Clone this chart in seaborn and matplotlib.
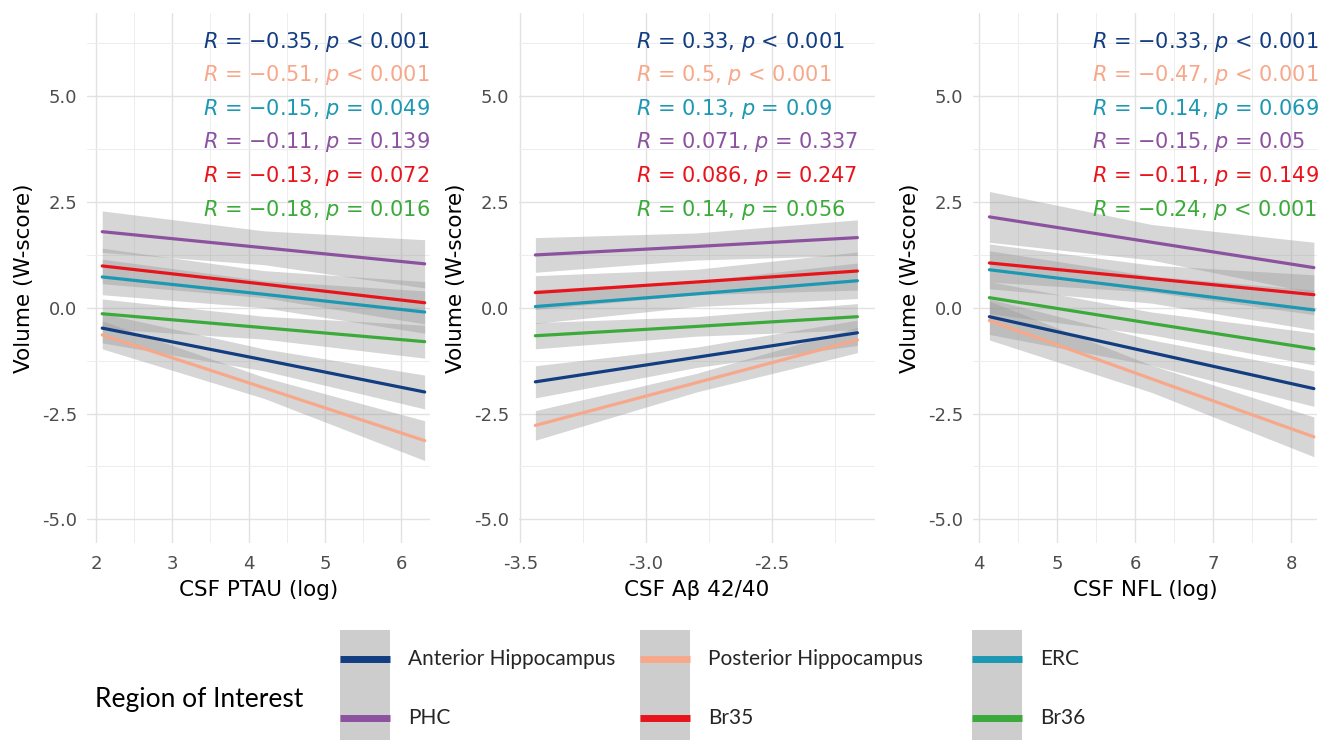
import pandas as pd
import seaborn as sns
import matplotlib.pyplot as plt
from matplotlib.lines import Line2D
from matplotlib.patches import Patch
from matplotlib.legend_handler import HandlerLine2D

sns.set_theme(style='white')
plt.rcParams['font.family'] = ['DejaVu Sans']
plt.rcParams['axes.unicode_minus'] = False

W, H = 1319, 740

regions = ['Anterior Hippocampus', 'Posterior Hippocampus', 'ERC', 'PHC', 'Br35', 'Br36']
colors = ['#123D80', '#F8A88A', '#1C98B3', '#8C52A0', '#E8141C', '#3BAA3A']
palette = dict(zip(regions, colors))

# fitted line at start / middle / end of the x range, one row per region
ptau_x = [2.08, 4.20, 6.31]
ptau_fit = [[-0.48, -1.23, -1.99], [-0.64, -1.89, -3.14], [0.73, 0.32, -0.10],
            [1.80, 1.42, 1.04], [0.99, 0.56, 0.12], [-0.14, -0.47, -0.80]]
ptau_ci = [[0.35, 0.26, 0.40], [0.33, 0.25, 0.47], [0.42, 0.32, 0.50],
           [0.49, 0.40, 0.57], [0.42, 0.32, 0.50], [0.35, 0.27, 0.39]]
ptau_r = [-0.35, -0.51, -0.15, -0.11, -0.13, -0.18]
ptau_p = ['< 0.001', '< 0.001', '= 0.049', '= 0.139', '= 0.072', '= 0.016']

abeta_x = [-3.44, -2.80, -2.16]
abeta_fit = [[-1.75, -1.17, -0.59], [-2.78, -1.77, -0.76], [0.03, 0.33, 0.64],
             [1.25, 1.45, 1.66], [0.36, 0.61, 0.87], [-0.66, -0.44, -0.21]]
abeta_ci = [[0.38, 0.24, 0.30], [0.35, 0.22, 0.30], [0.40, 0.30, 0.42],
            [0.41, 0.32, 0.42], [0.40, 0.30, 0.45], [0.31, 0.23, 0.31]]
abeta_r = [0.33, 0.5, 0.13, 0.071, 0.086, 0.14]
abeta_p = ['< 0.001', '< 0.001', '= 0.09', '= 0.337', '= 0.247', '= 0.056']

nfl_x = [4.13, 6.21, 8.29]
nfl_fit = [[-0.21, -1.06, -1.91], [-0.30, -1.68, -3.05], [0.90, 0.43, -0.05],
           [2.15, 1.55, 0.95], [1.06, 0.69, 0.31], [0.24, -0.37, -0.97]]
nfl_ci = [[0.42, 0.30, 0.42], [0.46, 0.32, 0.47], [0.45, 0.32, 0.47],
          [0.60, 0.42, 0.60], [0.45, 0.32, 0.47], [0.38, 0.27, 0.38]]
nfl_r = [-0.33, -0.47, -0.14, -0.15, -0.11, -0.24]
nfl_p = ['< 0.001', '< 0.001', '= 0.069', '= 0.05', '= 0.149', '< 0.001']

y_ticks = [-5.0, -2.5, 0.0, 2.5, 5.0]

panels = [
    dict(x=ptau_x, fit=ptau_fit, ci=ptau_ci, r=ptau_r, p=ptau_p, xlabel='CSF PTAU (log)',
         ticks=[2, 3, 4, 5, 6], minor=[2.5, 3.5, 4.5, 5.5], fmt='{:.0f}',
         xlim=(1.88, 6.38), box=(87, 430), text_x=3.40),
    dict(x=abeta_x, fit=abeta_fit, ci=abeta_ci, r=abeta_r, p=abeta_p, xlabel='CSF Aβ 42/40',
         ticks=[-3.5, -3.0, -2.5], minor=[-3.25, -2.75, -2.25], fmt='{:.1f}',
         xlim=(-3.505, -2.09), box=(519, 875), text_x=-3.04),
    dict(x=nfl_x, fit=nfl_fit, ci=nfl_ci, r=nfl_r, p=nfl_p, xlabel='CSF NFL (log)',
         ticks=[4, 5, 6, 7, 8], minor=[4.5, 5.5, 6.5, 7.5], fmt='{:.0f}',
         xlim=(3.92, 8.33), box=(973, 1317), text_x=5.44),
]

label_rows = [6.15, 5.36, 4.56, 3.77, 2.97, 2.18]

fig = plt.figure(figsize=(W / 100, H / 100), dpi=100)
top_px, bot_px = 13, 543

for pan in panels:
    x0, x1 = pan['box']
    ax = fig.add_axes([x0 / W, 1 - bot_px / H, (x1 - x0) / W, (bot_px - top_px) / H])

    # confidence bands first
    for i, reg in enumerate(regions):
        lo = [f - c for f, c in zip(pan['fit'][i], pan['ci'][i])]
        hi = [f + c for f, c in zip(pan['fit'][i], pan['ci'][i])]
        ax.fill_between(pan['x'], lo, hi, color='#999999', alpha=0.4, lw=0, zorder=2)

    rows = []
    for i, reg in enumerate(regions):
        for xv, yv in zip(pan['x'], pan['fit'][i]):
            rows.append({'x': xv, 'volume': yv, 'region': reg})
    df = pd.DataFrame(rows)
    sns.lineplot(data=df, x='x', y='volume', hue='region', hue_order=regions,
                 palette=palette, lw=2.3, legend=False, ax=ax, zorder=3)

    for i, reg in enumerate(regions):
        r = pan['r'][i]
        r_txt = ('\u2212' if r < 0 else '') + str(abs(r))
        ax.text(pan['text_x'], label_rows[i], f'$R$ = {r_txt}, $p$ {pan["p"][i]}',
                color=colors[i], fontsize=15, ha='left', va='baseline', zorder=4)

    ax.set_xlim(pan['xlim'])
    ax.set_ylim(-5.56, 6.97)
    ax.set_xticks(pan['ticks'], labels=[pan['fmt'].format(t) for t in pan['ticks']])
    ax.set_xticks(pan['minor'], minor=True)
    ax.set_yticks(y_ticks, labels=[f'{v:.1f}' for v in y_ticks])
    ax.set_yticks([-3.75, -1.25, 1.25, 3.75, 6.25], minor=True)
    ax.grid(which='major', color='#E2E2E2', lw=1.0)
    ax.grid(which='minor', color='#EDEDED', lw=0.7)
    ax.set_axisbelow(True)
    for s in ax.spines.values():
        s.set_visible(False)
    ax.tick_params(which='both', length=0, labelsize=13, labelcolor='#4D4D4D')
    ax.tick_params(axis='x', pad=8.5)
    ax.tick_params(axis='y', pad=7)
    ax.set_xlabel(pan['xlabel'], fontsize=15.5, color='black', labelpad=5)
    ax.set_ylabel('Volume (W-score)', fontsize=15.5, color='black', labelpad=6)


class CenteredLine(HandlerLine2D):
    # put the key line in the middle of the grey key box
    def create_artists(self, legend, orig_handle, xdescent, ydescent,
                       width, height, fontsize, trans):
        arts = super().create_artists(legend, orig_handle, xdescent, ydescent,
                                      width, height, fontsize, trans)
        for a in arts:
            a.set_ydata([height / 2 - ydescent] * len(a.get_xdata()))
        return arts


# legend: three columns of two keys, grey key background like ggplot smooth
fs = 15
fs_px = fs * 100 / 72
row_px = 59
hh = (row_px / fs_px - 0.245) / 0.65
key_cols = [[0, 3], [1, 4], [2, 5]]
key_x = [340, 640, 972]
for idx, kx in zip(key_cols, key_x):
    handles = [(Patch(facecolor='#CDCDCD', edgecolor='none'),
                Line2D([], [], color=colors[i], lw=5, solid_capstyle='butt')) for i in idx]
    fig.legend(handles, [regions[i] for i in idx], loc='upper left',
               bbox_to_anchor=(kx / W, 1 - 630 / H), frameon=False,
               borderpad=0, borderaxespad=0, labelspacing=0,
               handlelength=50 / fs_px, handleheight=hh, handletextpad=0.85,
               handler_map={Line2D: CenteredLine()},
               prop={'family': 'Lato', 'size': fs})

fig.text(95 / W, 1 - 700 / H, 'Region of Interest', family='Lato', fontsize=19,
         ha='left', va='center', color='black')

fig.savefig('out.png', dpi=100)
